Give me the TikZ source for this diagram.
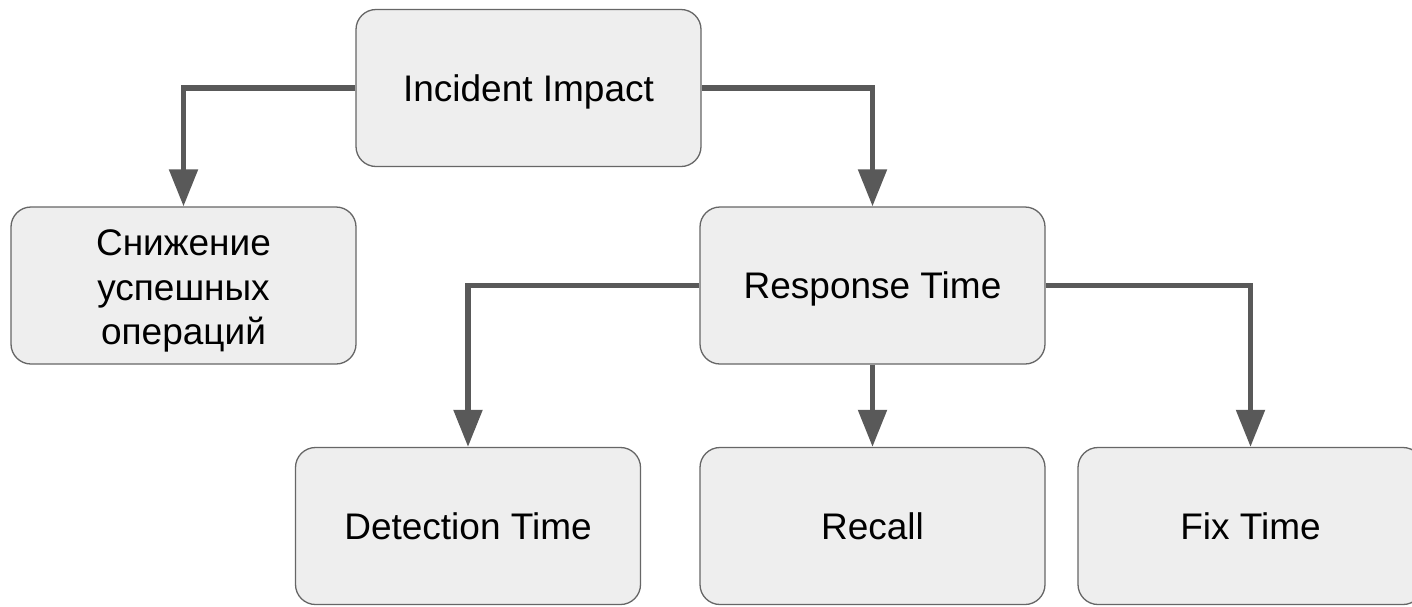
\documentclass[tikz,border=0pt]{standalone}
\usepackage{fontspec}
\setmainfont{Liberation Sans}
\usetikzlibrary{arrows.meta}
\definecolor{boxfill}{HTML}{EEEEEE}
\definecolor{boxline}{HTML}{666666}
\definecolor{edgecol}{HTML}{595959}
\begin{document}
\begin{tikzpicture}[x=1pt,y=-1pt,
  box/.style={draw=boxline, fill=boxfill, line width=1.3pt, rounded corners=20pt,
    minimum width=345pt, minimum height=157pt, inner sep=0pt, align=center,
    font=\fontsize{37}{44.5}\selectfont},
  oneline/.style={box, text height=26.5pt, text depth=0pt},
  conn/.style={draw=edgecol, line width=5.3pt, -{Triangle[width=28pt,length=37pt]}}]
\useasboundingbox (0,0) rectangle (1412,606);
\node[oneline] (inc) at (528.5,88) {Incident Impact};
\node[box] (sn) at (183.5,285.5) {\raisebox{29.8pt}[0pt][0pt]{\parbox[t]{320pt}{\centering\fontsize{37}{44.5}\selectfont Снижение\\успешных\\операций}}};
\node[oneline] (resp) at (872.5,285.5) {Response Time};
\node[oneline] (det) at (468,526) {Detection Time};
\node[oneline] (rec) at (872.5,526) {Recall};
\node[oneline] (fix) at (1250.5,526) {Fix Time};
\draw[conn] (inc.west) -| (sn.north);
\draw[conn] (inc.east) -| (resp.north);
\draw[conn] (resp.west) -| (det.north);
\draw[conn] (resp.south) -- (rec.north);
\draw[conn] (resp.east) -| (fix.north);
\end{tikzpicture}
\end{document}
